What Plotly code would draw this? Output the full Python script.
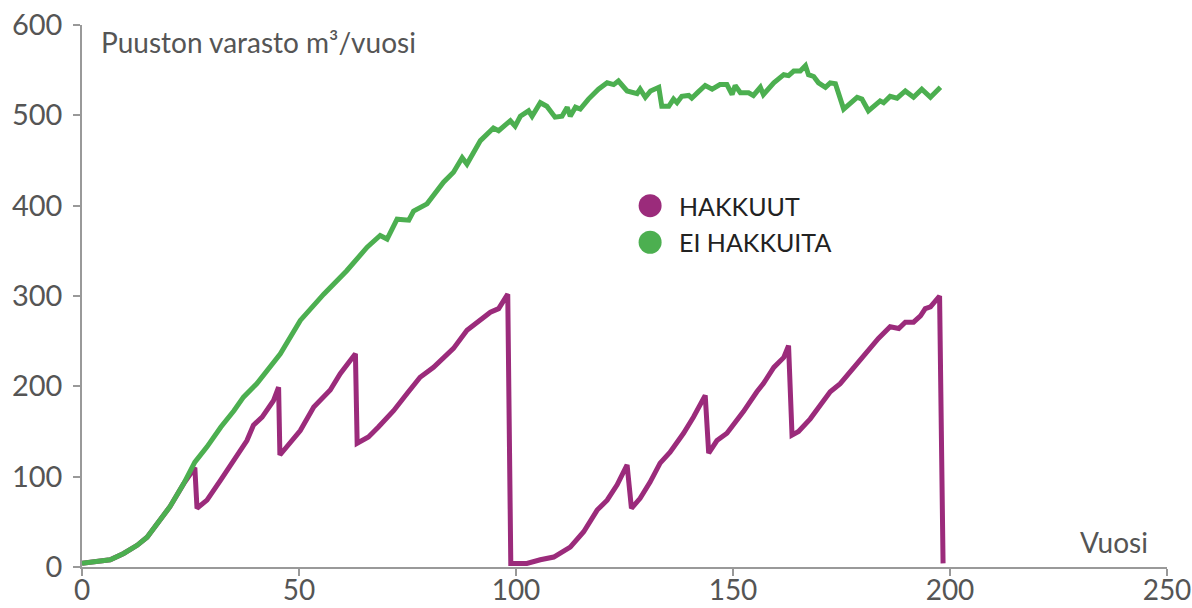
import plotly.graph_objects as go

# EI HAKKUITA (no cutting) - green
years_nocut = [0, 4, 6.5, 9.6, 12.7, 15, 17.3, 20.3, 23.4, 26, 28.8, 32, 35, 37.2, 40.3,
               45.7, 50.3, 55.7, 61, 65.7, 68.7, 70.3, 72.6, 75.3, 76.4, 79.5, 83.3, 85.6,
               87.6, 88.7, 91.8, 94.8, 96, 98.7, 99.8, 101, 102.9, 103.7, 105.6, 107.1,
               109, 110.6, 111.8, 112.5, 113.7, 114.8, 116.7, 119, 121, 122.5, 123.6,
               125.6, 127.9, 128.6, 129.8, 131, 132.9, 133.6, 135.2, 136.3, 137.1, 138.2,
               139.8, 140.5, 142, 143.6, 145.2, 147, 148.6, 149.8, 150.5, 151.7, 153.6,
               154.7, 156.3, 157, 159.4, 161.7, 162.8, 164, 165.5, 166.7, 167.4, 168.6,
               169.7, 171.3, 172.4, 173.6, 175.5, 178.6, 179.7, 181.2, 183.9, 184.7,
               186.2, 187.8, 189.7, 191.6, 193.5, 195.5, 197.8]
vol_nocut = [4, 6, 8, 15, 24, 33, 48, 67, 92, 116, 133, 155, 173, 188, 203,
             236, 273, 302, 328, 354, 367, 363, 385, 384, 394, 402, 426, 437,
             453, 446, 472, 486, 483, 494, 488, 499, 505, 499, 514, 510,
             498, 499, 509, 499, 509, 507, 518, 529, 536, 534, 538,
             527, 524, 529, 520, 527, 531, 510, 510, 518, 514, 521,
             522, 519, 526, 533, 529, 534, 534, 523, 533, 525, 525,
             522, 531, 523, 536, 545, 544, 549, 549, 555, 545, 543,
             536, 531, 536, 535, 507, 520, 518, 505, 516, 514,
             521, 519, 527, 520, 529, 520, 531]

# HAKKUUT (with cutting) - purple
years_cut = [0, 4, 6.5, 9.6, 12.7, 15, 17.3, 20.3, 23.4, 26, 26.5, 28.8, 31.9, 34.9, 38,
             39.5, 41.5, 44.1, 45.3, 45.6, 47.2, 50.3, 53.4, 57.2, 59.5, 63, 63.4, 66,
             68.3, 71.8, 74.9, 77.9, 81, 84.1, 85.6, 88.7, 91.8, 94.1, 96, 98.1, 98.8,
             102.5, 105.6, 108.7, 112.5, 115.6, 118.7, 121, 123.3, 125.6, 126.6, 128.6,
             130.9, 133.2, 135.5, 138.6, 140.9, 143.6, 144.4, 146.3, 148.6, 152.4, 155.5,
             157, 159.4, 161.7, 162.8, 163.6, 165.1, 167.8, 170.1, 172.4, 174.7, 177,
             179.3, 180.9, 183.5, 186.2, 188.2, 189.7, 191.6, 193.2, 194.3, 195.5, 197.6,
             198.4]
vol_cut = [4, 6, 8, 15, 24, 33, 48, 67, 92, 110, 65, 74, 96, 118, 140,
           157, 166, 184, 199, 124, 133, 151, 177, 196, 214, 236, 137, 144,
           155, 173, 192, 210, 221, 234, 242, 262, 273, 282, 286, 302, 4,
           4, 8, 11, 22, 39, 63, 74, 91, 113, 65, 76,
           94, 115, 127, 148, 166, 190, 126, 140, 148, 172, 194,
           203, 221, 232, 245, 146, 150, 164, 179, 194, 203, 216,
           231, 238, 253, 266, 264, 271, 271, 278, 286, 288, 300,
           4]

x_ticks = [0, 50, 100, 150, 200, 250]
y_ticks = [0, 100, 200, 300, 400, 500, 600]

PURPLE = "#9b2b7b"
GREEN = "#4caf50"
FONT = "Lato"

fig = go.Figure()
fig.add_trace(go.Scatter(x=years_cut, y=vol_cut, mode="lines", name="HAKKUUT",
                         line=dict(color=PURPLE, width=5), showlegend=False))
fig.add_trace(go.Scatter(x=years_nocut, y=vol_nocut, mode="lines", name="EI HAKKUITA",
                         line=dict(color=GREEN, width=5), showlegend=False))

# legend (manual)
legend_items = [("HAKKUUT", PURPLE, 400), ("EI HAKKUITA", GREEN, 359.5)]
for label, col, yv in legend_items:
    fig.add_shape(type="circle", xref="x", yref="y", xsizemode="pixel", ysizemode="pixel",
                  xanchor=130.9, yanchor=yv, x0=-11.5, x1=11.5, y0=-11.5, y1=11.5,
                  fillcolor=col, line=dict(width=0))
    fig.add_annotation(x=137.2, y=yv, xref="x", yref="y", text=label, showarrow=False,
                       xanchor="left", yanchor="middle",
                       font=dict(family=FONT, size=25, color="#222222"))

fig.add_annotation(x=0.016, y=0.969, xref="paper", yref="paper",
                   text="Puuston varasto m³/vuosi", showarrow=False,
                   xanchor="left", yanchor="middle",
                   font=dict(family=FONT, size=28, color="#555555"))
fig.add_annotation(x=0.9846, y=0.046, xref="paper", yref="paper",
                   text="Vuosi", showarrow=False, xanchor="right", yanchor="middle",
                   font=dict(family=FONT, size=28, color="#555555"))

axis_common = dict(showgrid=False, zeroline=False, showline=True, linecolor="#999999",
                   linewidth=1.5, ticks="outside", ticklen=7, tickcolor="#999999",
                   tickwidth=1.5, automargin=False)
fig.update_xaxes(range=[0, 250], tickvals=x_ticks, ticklabelstandoff=-9,
                 ticklabeloverflow="allow",
                 tickfont=dict(family=FONT, size=28, color="#555555"), **axis_common)
fig.update_yaxes(range=[0, 600], tickvals=y_ticks, ticklabelstandoff=5,
                 tickfont=dict(family=FONT, size=29, color="#555555"), **axis_common)

fig.update_layout(width=1192, height=608, margin=dict(l=82, r=25, t=25, b=41),
                  plot_bgcolor="white", paper_bgcolor="white", showlegend=False)

fig.write_html("out.html", config={"displayModeBar": False},
               post_script="document.body.style.margin='0';document.body.style.padding='0';")
